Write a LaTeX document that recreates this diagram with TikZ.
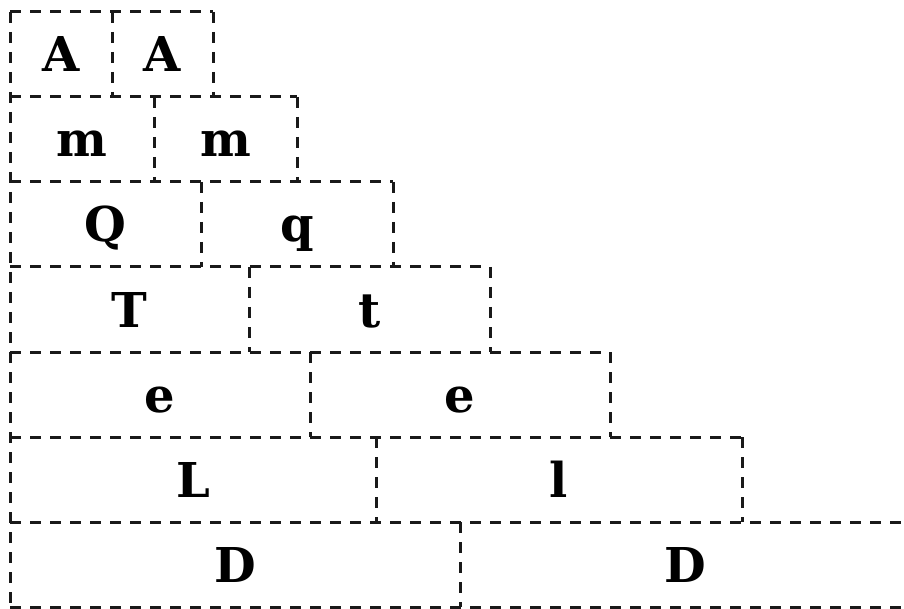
\documentclass[tikz,border=0pt]{standalone}
\usepackage{fontspec}
\setmainfont{DejaVu Serif}
\usetikzlibrary{positioning}

\begin{document}
\begin{tikzpicture}[x=1pt, y=-1pt, cell/.style={rectangle, inner sep=0pt, outer sep=0pt, minimum height=85pt, text height=35pt, text depth=0pt, font=\fontsize{48}{48}\selectfont\bfseries}, rule/.style={draw=black!90, line width=3pt, dash pattern=on 11pt off 9pt}]
\useasboundingbox (0,0) rectangle (904,609);
\clip (0,0) rectangle (904,609);
% row 1
\node[cell, minimum width=102pt, anchor=north west] (a1) at (10,12) {A};
\node[cell, minimum width=101pt, right=0pt of a1] (a2) {A};
% row 2
\node[cell, minimum width=144pt, below right=0pt and 0pt of a1.south west] (m1) {m};
\node[cell, minimum width=143pt, right=0pt of m1] (m2) {m};
% row 3
\node[cell, minimum width=191pt, below right=0pt and 0pt of m1.south west] (q1) {Q};
\node[cell, minimum width=192pt, right=0pt of q1] (q2) {q};
% row 4
\node[cell, minimum width=239pt, below right=0pt and 0pt of q1.south west] (t1) {T};
\node[cell, minimum width=241pt, right=0pt of t1] (t2) {t};
% row 5
\node[cell, minimum width=300pt, below right=0pt and 0pt of t1.south west] (e1) {e};
\node[cell, minimum width=300pt, right=0pt of e1] (e2) {e};
% row 6
\node[cell, minimum width=366pt, below right=0pt and 0pt of e1.south west] (l1) {L};
\node[cell, minimum width=366pt, right=0pt of l1] (l2) {l};
% row 7
\node[cell, minimum width=450pt, below right=0pt and 0pt of l1.south west] (d1) {D};
\node[cell, minimum width=451pt, right=0pt of d1] (d2) {D};
% dashed rules
\draw[rule] (a1.north west) -- (d1.south west);
\foreach \l/\r in {a1/a2, m1/m2, q1/q2, t1/t2, e1/e2, l1/l2, d1/d2} {
  \draw[rule] (\l.north west) -- (\r.north east);
  \draw[rule] (\l.north east) -- (\l.south east);
  \draw[rule] (\r.north east) -- (\r.south east);
}
\draw[rule] (d1.south west) -- (d2.south east);
\end{tikzpicture}
\end{document}
